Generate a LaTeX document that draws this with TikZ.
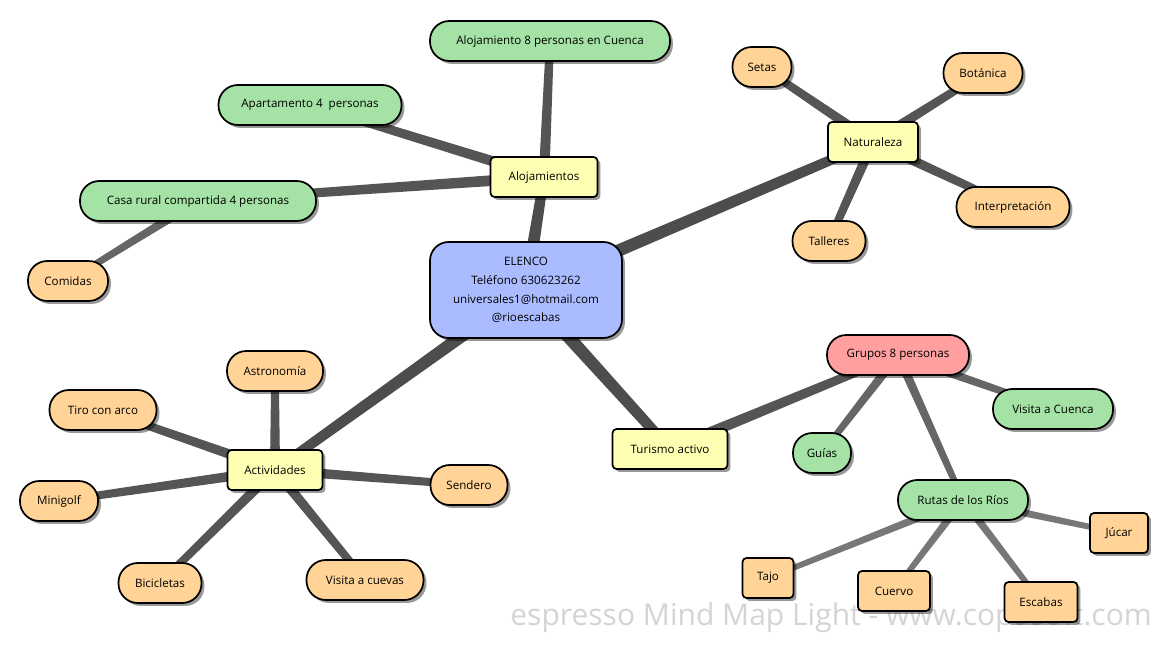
\documentclass[tikz,border=0pt]{standalone}
\usepackage{fontspec}
\setmainfont{Open Sans}
\usetikzlibrary{calc,shadows,backgrounds}
\definecolor{cRoot}{HTML}{AABBFF}
\definecolor{cYel}{HTML}{FFFFB4}
\definecolor{cGreen}{HTML}{A5E2A5}
\definecolor{cOrange}{HTML}{FFD496}
\definecolor{cRed}{HTML}{FF9F9F}
\definecolor{cL1}{HTML}{4D4D4D}
\definecolor{cL2}{HTML}{555555}
\definecolor{cL3}{HTML}{666666}
\definecolor{cL4}{HTML}{777777}
\definecolor{cWm}{HTML}{D4D4D4}
\newcommand\mmfs{\fontsize{8.7pt}{14pt}\selectfont}
\newcommand\mmlink[5]{%
  \fill[#5] ($(#1.center)!#3!90:(#2.center)$) -- ($(#2.center)!#4!-90:(#1.center)$)
    -- ($(#2.center)!#4!90:(#1.center)$) -- ($(#1.center)!#3!-90:(#2.center)$) -- cycle;}
\tikzset{
  base/.style={draw=black, line width=1.3pt, font=\mmfs, text=black, inner sep=0pt,
    minimum height=30pt,
    drop shadow={shadow xshift=2.2pt, shadow yshift=-2.2pt, opacity=0.4, fill=black}},
  w/.style={minimum width=#1*0.75pt},
  pill/.style={base, rounded corners=14.5pt, fill=#1},
  rbox/.style={base, rounded corners=3pt, fill=#1},
  rootbox/.style={base, rounded corners=14pt, fill=cRoot, align=center,
    minimum width=144pt, minimum height=72pt},
}
\begin{document}
\begin{tikzpicture}[x=0.75pt,y=-0.75pt]
\useasboundingbox (0,0) rectangle (1166,645);
% nodes
\node[rootbox] (root) at (526,290) {ELENCO\\Teléfono 630623262\\universales1@hotmail.com\\@rioescabas};
\node[rbox=cYel, w=107] (aloj) at (544,177) {Alojamientos};
\node[pill=cGreen, w=240] (a8) at (550,41) {Alojamiento 8 personas en Cuenca};
\node[pill=cGreen, w=183] (ap4) at (310,105) {Apartamento 4\ \ personas};
\node[pill=cGreen, w=236] (casa) at (198,201) {Casa rural compartida 4 personas};
\node[pill=cOrange, w=80] (comidas) at (68,281) {Comidas};
\node[rbox=cYel, w=90] (nat) at (873,142) {Naturaleza};
\node[pill=cOrange, w=59] (setas) at (762,67) {Setas};
\node[pill=cOrange, w=79] (bota) at (983,73) {Botánica};
\node[pill=cOrange, w=113] (interp) at (1013,207) {Interpretación};
\node[pill=cOrange, w=73] (talleres) at (829,241) {Talleres};
\node[rbox=cYel, w=115] (tur) at (670,449) {Turismo activo};
\node[pill=cRed, w=142] (grupos) at (898,355) {Grupos 8 personas};
\node[pill=cGreen, w=120] (vcuenca) at (1053,409) {Visita a Cuenca};
\node[pill=cGreen, w=58] (guias) at (822,453) {Guías};
\node[pill=cGreen, w=130] (rutas) at (963,500) {Rutas de los Ríos};
\node[rbox=cOrange, w=51] (tajo) at (768,578) {Tajo};
\node[rbox=cOrange, w=72] (cuervo) at (894,591) {Cuervo};
\node[rbox=cOrange, w=73] (escabas) at (1041,602) {Escabas};
\node[rbox=cOrange, w=58] (jucar) at (1119,533) {Júcar};
\node[rbox=cYel, w=95] (act) at (275,470) {Actividades};
\node[pill=cOrange, w=96] (astro) at (275,371) {Astronomía};
\node[pill=cOrange, w=107] (tiro) at (103,410) {Tiro con arco};
\node[pill=cOrange, w=78] (mini) at (59,501) {Minigolf};
\node[pill=cOrange, w=83] (bici) at (160,583) {Bicicletas};
\node[pill=cOrange, w=117] (cuevas) at (365,580) {Visita a cuevas};
\node[pill=cOrange, w=77] (sendero) at (469,485) {Sendero};
\begin{pgfonlayer}{background}
\node[anchor=base east, inner sep=0pt, text=cWm, font=\fontsize{22.5pt}{26pt}\selectfont] (wm) at (1152,625)
  {espresso Mind Map Light - www.copasoft.com};
% level 1
\mmlink{root}{aloj}{5pt}{3.6pt}{cL1}
\mmlink{root}{nat}{5pt}{3.6pt}{cL1}
\mmlink{root}{tur}{5.2pt}{3.8pt}{cL1}
\mmlink{root}{act}{5pt}{3.6pt}{cL1}
% level 2
\mmlink{aloj}{a8}{4pt}{3pt}{cL2}
\mmlink{aloj}{ap4}{4pt}{3pt}{cL2}
\mmlink{aloj}{casa}{4.2pt}{3pt}{cL2}
\mmlink{nat}{setas}{3.8pt}{2.8pt}{cL2}
\mmlink{nat}{bota}{3.8pt}{2.8pt}{cL2}
\mmlink{nat}{interp}{3.8pt}{2.8pt}{cL2}
\mmlink{nat}{talleres}{3.8pt}{2.8pt}{cL2}
\mmlink{tur}{grupos}{4.2pt}{3pt}{cL2}
\mmlink{act}{astro}{3.8pt}{2.8pt}{cL2}
\mmlink{act}{tiro}{3.8pt}{2.8pt}{cL2}
\mmlink{act}{mini}{3.8pt}{2.8pt}{cL2}
\mmlink{act}{bici}{3.8pt}{2.8pt}{cL2}
\mmlink{act}{cuevas}{3.8pt}{2.8pt}{cL2}
\mmlink{act}{sendero}{3.8pt}{2.8pt}{cL2}
% level 3
\mmlink{casa}{comidas}{3.4pt}{2.3pt}{cL3}
\mmlink{grupos}{vcuenca}{3.4pt}{2.3pt}{cL3}
\mmlink{grupos}{guias}{3.4pt}{2.3pt}{cL3}
\mmlink{grupos}{rutas}{3.4pt}{2.3pt}{cL3}
% level 4
\mmlink{rutas}{tajo}{3pt}{2pt}{cL4}
\mmlink{rutas}{cuervo}{3pt}{2pt}{cL4}
\mmlink{rutas}{escabas}{3pt}{2pt}{cL4}
\mmlink{rutas}{jucar}{3pt}{2pt}{cL4}
\end{pgfonlayer}
\end{tikzpicture}
\end{document}
